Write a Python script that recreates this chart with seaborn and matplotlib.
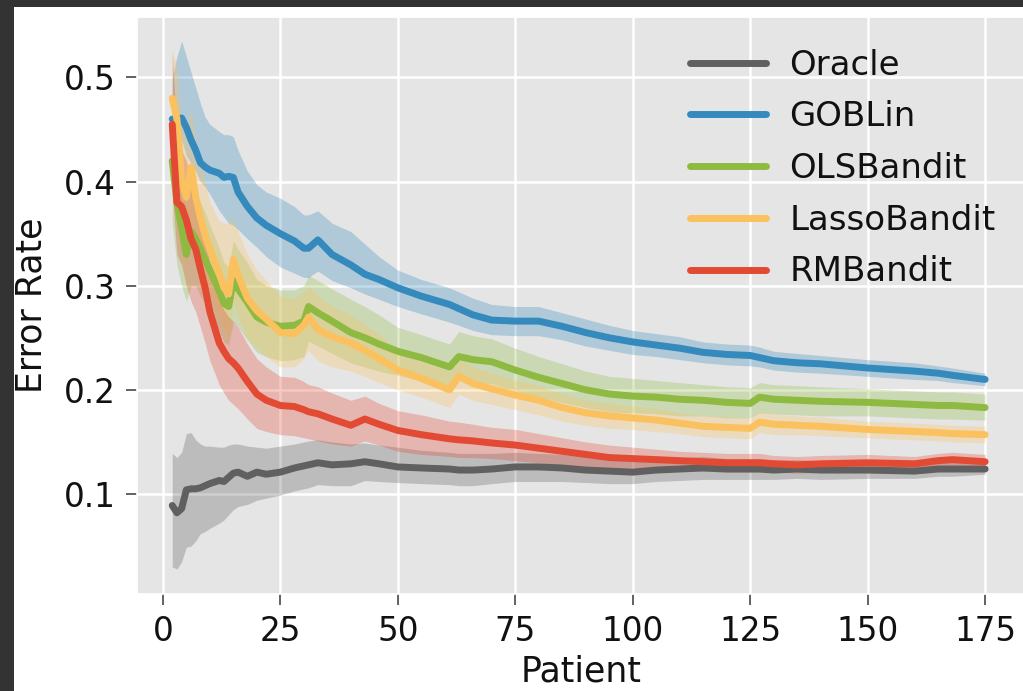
import numpy as np
import pandas as pd
import matplotlib
matplotlib.use("Agg")
import matplotlib.pyplot as plt
from matplotlib.patches import Rectangle
import seaborn as sns

# ---------------- data ----------------
patients = [2, 3, 4, 5, 6, 7, 8, 9, 10, 12, 13, 14, 15, 16, 18, 20, 22, 25, 28, 30,
            31, 33, 36, 40, 43, 46, 50, 55, 61, 63, 66, 70, 75, 80, 85, 90, 95, 100,
            105, 110, 115, 120, 125, 127, 130, 135, 140, 150, 160, 165, 168, 175]

algorithms = ["Oracle", "GOBLin", "OLSBandit", "LassoBandit", "RMBandit"]
colors = ["#606060", "#348ABD", "#8EBA42", "#FBC15E", "#E24A33"]

oracle_mean = [0.089, 0.082, 0.086, 0.104, 0.105, 0.105, 0.106, 0.108, 0.110, 0.113, 0.112, 0.116, 0.120, 0.121, 0.117, 0.121, 0.119, 0.121, 0.125, 0.127,
               0.128, 0.130, 0.128, 0.129, 0.131, 0.129, 0.126, 0.125, 0.124, 0.123, 0.123, 0.124, 0.126, 0.126, 0.125, 0.123, 0.122, 0.121,
               0.123, 0.124, 0.125, 0.124, 0.124, 0.124, 0.123, 0.124, 0.123, 0.123, 0.122, 0.124, 0.124, 0.124]
oracle_lo = [0.030, 0.028, 0.035, 0.049, 0.050, 0.055, 0.062, 0.064, 0.067, 0.072, 0.075, 0.080, 0.085, 0.088, 0.090, 0.094, 0.096, 0.099, 0.103, 0.105,
             0.106, 0.109, 0.108, 0.108, 0.113, 0.112, 0.111, 0.110, 0.109, 0.108, 0.108, 0.110, 0.112, 0.112, 0.112, 0.111, 0.110, 0.110,
             0.112, 0.113, 0.114, 0.114, 0.114, 0.114, 0.114, 0.115, 0.114, 0.115, 0.115, 0.117, 0.117, 0.119]
oracle_hi = [0.139, 0.135, 0.140, 0.158, 0.159, 0.152, 0.148, 0.146, 0.146, 0.145, 0.145, 0.147, 0.148, 0.148, 0.146, 0.145, 0.144, 0.146, 0.148, 0.150,
             0.151, 0.152, 0.150, 0.148, 0.149, 0.147, 0.145, 0.142, 0.140, 0.139, 0.139, 0.139, 0.140, 0.139, 0.138, 0.136, 0.134, 0.133,
             0.134, 0.135, 0.136, 0.134, 0.134, 0.134, 0.133, 0.133, 0.132, 0.131, 0.129, 0.131, 0.131, 0.129]

goblin_mean = [0.460, 0.460, 0.461, 0.452, 0.440, 0.430, 0.418, 0.414, 0.411, 0.408, 0.404, 0.405, 0.404, 0.390, 0.376, 0.365, 0.358, 0.350, 0.343, 0.336,
               0.336, 0.344, 0.330, 0.320, 0.311, 0.306, 0.298, 0.290, 0.282, 0.278, 0.272, 0.267, 0.266, 0.266, 0.261, 0.255, 0.250, 0.246,
               0.243, 0.240, 0.236, 0.234, 0.233, 0.231, 0.228, 0.226, 0.225, 0.221, 0.218, 0.216, 0.214, 0.210]
goblin_lo = [0.440, 0.440, 0.440, 0.425, 0.418, 0.410, 0.400, 0.395, 0.388, 0.372, 0.366, 0.360, 0.358, 0.354, 0.345, 0.337, 0.328, 0.318, 0.312, 0.308,
             0.308, 0.314, 0.305, 0.298, 0.292, 0.287, 0.280, 0.273, 0.265, 0.262, 0.257, 0.253, 0.252, 0.252, 0.248, 0.242, 0.238, 0.234,
             0.232, 0.229, 0.226, 0.224, 0.223, 0.222, 0.219, 0.217, 0.216, 0.213, 0.210, 0.209, 0.207, 0.204]
goblin_hi = [0.500, 0.520, 0.535, 0.520, 0.505, 0.490, 0.475, 0.462, 0.455, 0.448, 0.445, 0.445, 0.443, 0.430, 0.410, 0.397, 0.390, 0.384, 0.376, 0.368,
             0.368, 0.372, 0.360, 0.352, 0.340, 0.328, 0.315, 0.306, 0.298, 0.294, 0.288, 0.282, 0.280, 0.280, 0.274, 0.268, 0.262, 0.257,
             0.254, 0.251, 0.246, 0.244, 0.243, 0.241, 0.237, 0.235, 0.233, 0.229, 0.226, 0.223, 0.221, 0.216]

ols_mean = [0.420, 0.380, 0.355, 0.330, 0.352, 0.345, 0.335, 0.325, 0.315, 0.295, 0.283, 0.280, 0.305, 0.297, 0.284, 0.270, 0.265, 0.261, 0.262, 0.266,
            0.280, 0.274, 0.266, 0.255, 0.250, 0.244, 0.237, 0.231, 0.222, 0.232, 0.229, 0.227, 0.219, 0.212, 0.206, 0.200, 0.196, 0.194,
            0.193, 0.191, 0.190, 0.188, 0.187, 0.193, 0.191, 0.190, 0.189, 0.188, 0.186, 0.185, 0.185, 0.183]
ols_lo = [0.360, 0.320, 0.300, 0.285, 0.300, 0.300, 0.290, 0.283, 0.275, 0.257, 0.246, 0.243, 0.266, 0.260, 0.248, 0.236, 0.232, 0.228, 0.229, 0.232,
          0.247, 0.242, 0.235, 0.226, 0.222, 0.218, 0.214, 0.209, 0.201, 0.210, 0.207, 0.206, 0.199, 0.193, 0.188, 0.183, 0.179, 0.178,
          0.177, 0.175, 0.175, 0.173, 0.173, 0.178, 0.177, 0.176, 0.175, 0.175, 0.173, 0.172, 0.172, 0.171]
ols_hi = [0.470, 0.440, 0.410, 0.380, 0.400, 0.390, 0.380, 0.370, 0.358, 0.336, 0.322, 0.318, 0.343, 0.335, 0.322, 0.306, 0.300, 0.296, 0.296, 0.300,
          0.310, 0.305, 0.297, 0.287, 0.280, 0.272, 0.260, 0.253, 0.244, 0.256, 0.252, 0.249, 0.240, 0.232, 0.225, 0.218, 0.213, 0.211,
          0.209, 0.207, 0.205, 0.203, 0.202, 0.207, 0.205, 0.204, 0.203, 0.201, 0.199, 0.198, 0.198, 0.196]

lasso_mean = [0.480, 0.460, 0.400, 0.385, 0.414, 0.385, 0.365, 0.348, 0.335, 0.312, 0.298, 0.292, 0.325, 0.310, 0.288, 0.276, 0.268, 0.255, 0.254, 0.262,
              0.270, 0.258, 0.251, 0.245, 0.238, 0.230, 0.219, 0.211, 0.200, 0.213, 0.206, 0.201, 0.195, 0.190, 0.183, 0.178, 0.175, 0.173,
              0.171, 0.168, 0.165, 0.164, 0.163, 0.169, 0.167, 0.166, 0.165, 0.162, 0.160, 0.159, 0.158, 0.157]
lasso_lo = [0.440, 0.400, 0.340, 0.320, 0.350, 0.330, 0.315, 0.300, 0.290, 0.270, 0.258, 0.252, 0.285, 0.270, 0.250, 0.240, 0.232, 0.222, 0.222, 0.230,
            0.238, 0.228, 0.222, 0.218, 0.213, 0.207, 0.200, 0.193, 0.183, 0.196, 0.190, 0.186, 0.181, 0.176, 0.170, 0.166, 0.163, 0.162,
            0.160, 0.158, 0.155, 0.154, 0.153, 0.159, 0.157, 0.157, 0.156, 0.154, 0.152, 0.151, 0.150, 0.149]
lasso_hi = [0.525, 0.510, 0.460, 0.450, 0.470, 0.440, 0.420, 0.400, 0.380, 0.362, 0.360, 0.360, 0.365, 0.352, 0.330, 0.315, 0.305, 0.290, 0.287, 0.294,
            0.300, 0.290, 0.280, 0.272, 0.263, 0.253, 0.238, 0.229, 0.217, 0.230, 0.222, 0.216, 0.209, 0.204, 0.196, 0.190, 0.187, 0.184,
            0.182, 0.178, 0.175, 0.174, 0.173, 0.179, 0.177, 0.175, 0.174, 0.170, 0.168, 0.167, 0.166, 0.165]

rm_mean = [0.455, 0.380, 0.376, 0.363, 0.345, 0.335, 0.316, 0.298, 0.275, 0.245, 0.237, 0.230, 0.226, 0.221, 0.208, 0.196, 0.190, 0.185, 0.184, 0.181,
           0.179, 0.177, 0.172, 0.166, 0.172, 0.167, 0.161, 0.157, 0.153, 0.152, 0.151, 0.149, 0.147, 0.144, 0.141, 0.138, 0.135, 0.134,
           0.133, 0.132, 0.131, 0.130, 0.130, 0.130, 0.129, 0.128, 0.129, 0.130, 0.129, 0.132, 0.133, 0.131]
rm_lo = [0.390, 0.330, 0.320, 0.300, 0.285, 0.275, 0.260, 0.245, 0.228, 0.205, 0.197, 0.190, 0.186, 0.182, 0.172, 0.163, 0.160, 0.157, 0.156, 0.154,
         0.153, 0.151, 0.148, 0.146, 0.151, 0.147, 0.141, 0.138, 0.136, 0.135, 0.135, 0.134, 0.132, 0.130, 0.128, 0.126, 0.124, 0.124,
         0.123, 0.123, 0.122, 0.121, 0.121, 0.121, 0.121, 0.120, 0.121, 0.122, 0.122, 0.125, 0.126, 0.124]
rm_hi = [0.525, 0.440, 0.430, 0.420, 0.400, 0.390, 0.370, 0.350, 0.320, 0.285, 0.277, 0.270, 0.266, 0.260, 0.244, 0.230, 0.222, 0.213, 0.212, 0.208,
         0.205, 0.203, 0.197, 0.190, 0.194, 0.187, 0.180, 0.176, 0.170, 0.169, 0.167, 0.164, 0.162, 0.158, 0.154, 0.150, 0.147, 0.145,
         0.143, 0.141, 0.140, 0.139, 0.139, 0.139, 0.137, 0.136, 0.137, 0.138, 0.136, 0.139, 0.140, 0.138]

x_ticks = [0, 25, 50, 75, 100, 125, 150, 175]
y_ticks = [0.1, 0.2, 0.3, 0.4, 0.5]

series = {
    "Oracle": (oracle_lo, oracle_mean, oracle_hi),
    "GOBLin": (goblin_lo, goblin_mean, goblin_hi),
    "OLSBandit": (ols_lo, ols_mean, ols_hi),
    "LassoBandit": (lasso_lo, lasso_mean, lasso_hi),
    "RMBandit": (rm_lo, rm_mean, rm_hi),
}

# long-form table: lower / mean / upper rows per patient; the median is the
# mean curve and the 100% interval is the band
rows = []
for name in algorithms:
    lo, mid, hi = series[name]
    for i, p in enumerate(patients):
        for v in (lo[i], mid[i], hi[i]):
            rows.append((p, v, name))
df = pd.DataFrame(rows, columns=["Patient", "Error Rate", "Algorithm"])

# ---------------- style ----------------
sns.set_theme(style="darkgrid", rc={
    "axes.facecolor": "#E5E5E5",
    "grid.color": "white",
    "grid.linewidth": 1.8,
    "axes.edgecolor": "white",
    "xtick.bottom": True,
    "ytick.left": True,
})
plt.rcParams["font.family"] = ["DejaVu Sans"]

fig = plt.figure(figsize=(10.23, 6.91), dpi=100)
fig.patch.set_facecolor("#333333")
fig.add_artist(Rectangle((14 / 1023, 0), 1, (691 - 7) / 691,
                         transform=fig.transFigure, facecolor="white",
                         edgecolor="none", zorder=-5))

ax = fig.add_axes([137 / 1023, (691 - 594) / 691, (1026 - 137) / 1023, (594 - 17) / 691])

sns.lineplot(data=df, x="Patient", y="Error Rate", hue="Algorithm",
             hue_order=algorithms, palette=colors, estimator="median",
             errorbar=("pi", 100), err_kws={"alpha": 0.3, "linewidth": 0},
             linewidth=5, ax=ax)

ax.set_xlim(-5.5, 183.7)
ax.set_ylim(0.004, 0.558)
ax.set_xticks(x_ticks)
ax.set_yticks(y_ticks)
ax.set_xticklabels([str(t) for t in x_ticks])
ax.set_yticklabels([f"{t:.1f}" for t in y_ticks])
ax.tick_params(axis="both", labelsize=23.5, labelcolor="#111111", color="#555555",
               length=8, width=1.3, direction="out", pad=7)
ax.set_xlabel("Patient", fontsize=25, color="#111111", labelpad=5)
ax.set_ylabel("Error Rate", fontsize=25, color="#111111", labelpad=11)

handles, labels = ax.get_legend_handles_labels()
leg = ax.legend(handles, labels, loc="upper left",
                bbox_to_anchor=(676 / 1023, (691 - 35) / 691),
                bbox_transform=fig.transFigure, frameon=False,
                fontsize=24.5, handlelength=2.25, handletextpad=0.68,
                labelspacing=0.55, borderaxespad=0)
for line in leg.get_lines():
    line.set_linewidth(5)
for t in leg.get_texts():
    t.set_color("#111111")

fig.savefig("out.png", dpi=100, facecolor=fig.get_facecolor())
